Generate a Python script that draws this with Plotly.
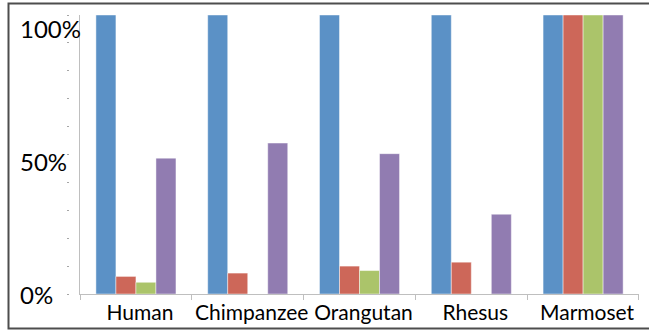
import plotly.graph_objects as go

categories = ["Human", "Chimpanzee", "Orangutan", "Rhesus", "Marmoset"]
series_names = ["Series 1", "Series 2", "Series 3", "Series 4"]
s1 = [100, 100, 100, 100, 100]
s2 = [6.3, 7.5, 10.0, 11.4, 100]
s3 = [4.2, 0, 8.4, 0, 100]
s4 = [48.7, 54.1, 50.3, 28.6, 100]
colors = ["#5B91C6", "#CD6759", "#ABC46A", "#917CB1"]
ytick_vals = [0, 50, 100]
ytick_text = ["0%", "50%", "100%"]
minor_vals = list(range(0, 101, 10))

W, H = 649, 332
plot_left, plot_right, plot_top, plot_bottom = 80, 638.7, 15, 294
ml, mr = 0, W - plot_right
mt, mb = plot_top, H - plot_bottom
pw = W - ml - mr
font = "Lato"

fig = go.Figure()
for name, vals, c in zip(series_names, [s1, s2, s3, s4], colors):
    fig.add_trace(go.Bar(x=categories, y=vals, name=name, marker_color=c,
                         marker_line=dict(color="rgba(255,255,255,0.45)", width=1)))

fig.update_layout(
    width=W, height=H,
    margin=dict(l=ml, r=mr, t=mt, b=mb, autoexpand=False),
    paper_bgcolor="white", plot_bgcolor="white",
    showlegend=False, barmode="group", bargap=0.284, bargroupgap=0,
    font=dict(family=font, color="black"),
    xaxis=dict(domain=[(plot_left - ml) / pw, 1], showline=True, linecolor="#BFBFBF", linewidth=1,
               ticks="outside", tickson="boundaries", ticklen=5, tickcolor="#BFBFBF",
               tickangle=0, automargin=False, ticklabelshift=4,
               tickfont=dict(size=21, family=font, color="black"), showgrid=False,
               zeroline=False),
    yaxis=dict(range=[0, 100], showline=True, linecolor="#BFBFBF", linewidth=1,
               showticklabels=False, ticks="", showgrid=False, zeroline=False,
               automargin=False),
    yaxis2=dict(range=[0, 104.9], overlaying="y", visible=False, automargin=False),
    yaxis3=dict(range=[0, 100], overlaying="y", anchor="free",
                position=(69 - ml) / pw, showline=False, ticks="outside",
                tickvals=minor_vals, ticklen=2, tickwidth=1, tickcolor="#A6A6A6",
                showticklabels=False, showgrid=False, zeroline=False, automargin=False),
)

# invisible helper traces to activate yaxis2/yaxis3
fig.add_trace(go.Scatter(x=[categories[0]], y=[0], yaxis="y2", mode="markers",
                         marker=dict(opacity=0), hoverinfo="skip", showlegend=False))
fig.add_trace(go.Scatter(x=[categories[0]], y=[0], yaxis="y3", mode="markers",
                         marker=dict(opacity=0), hoverinfo="skip", showlegend=False))

for v, t in zip(ytick_vals, ytick_text):
    fig.add_annotation(text=t, xref="paper", x=(18 - ml) / pw, xanchor="left",
                       yref="y2", y=v, yanchor="middle", showarrow=False,
                       font=dict(size=24, family=font, color="black"))

def px_x(px):
    return (px - ml) / pw
def px_y(py):
    return (H - mb - py) / (H - mt - mb)

fig.add_shape(type="rect", xref="paper", yref="paper",
              x0=px_x(8.5), x1=px_x(655), y0=px_y(328.5), y1=px_y(3.5),
              line=dict(color="#4D4D4D", width=2), fillcolor="rgba(0,0,0,0)")

fig.write_html("out.html", config={"displayModeBar": False},
               post_script="document.body.style.margin='0';document.body.style.overflow='hidden';")
